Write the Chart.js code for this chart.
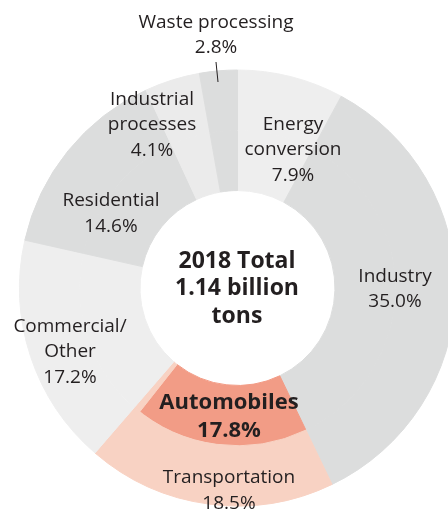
<!DOCTYPE html>
<html>
<head>
<meta charset="utf-8">
<script src="https://cdn.jsdelivr.net/npm/chart.js@4.4.1/dist/chart.umd.min.js"></script>
<style>
  html, body { margin: 0; padding: 0; width: 448px; height: 512px; overflow: hidden; background: #fff; }
  #wrap { position: absolute; left: 0; top: 0; width: 475px; height: 576px; }
</style>
</head>
<body>
<div id="wrap"><canvas id="chart"></canvas></div>
<script>
// data, clockwise from 12 o'clock
const sectors = ['Energy conversion', 'Industry', 'Transportation', 'Commercial/Other', 'Residential', 'Industrial processes', 'Waste processing'];
const shares = [7.9, 35.0, 18.5, 17.2, 14.6, 4.1, 2.8];
const automobileShare = 17.8; // part of Transportation
const sectorLines = [['Energy', 'conversion'], ['Industry'], ['Transportation'], ['Commercial/', 'Other'], ['Residential'], ['Industrial', 'processes'], ['Waste processing']];
const centerLines = ['2018 Total', '1.14 billion', 'tons'];

const sectorColors = ['#eeeeee', '#dcdddd', '#f8d2c3', '#eeeeee', '#dcdddd', '#ebebeb', '#dcdddd'];
const autoColor = '#f29c86';

// label placement, offsets from the centre at radius 218
const labelOffsets = [[55.5, -138], [157.5, 1], [-8.5, 202.5], [-167.5, 64], [-126.5, -74.5], [-85.5, -163], [-21.5, -253]];
const autoOffset = [-8.5, 129];
const wasteTick = [[-21.5, -226], [-19.5, -206]];
const textColor = '#231f20';

// inner ring splits Transportation into Automobiles + rest
const innerData = [];
const innerColors = [];
shares.forEach((v, i) => {
  if (i === 2) {
    innerData.push(automobileShare, +(v - automobileShare).toFixed(1));
    innerColors.push(autoColor, sectorColors[i]);
  } else {
    innerData.push(v);
    innerColors.push(sectorColors[i]);
  }
});

function drawBlock(ctx, lines, x, y, font, lh) {
  ctx.font = font;
  lines.forEach((t, k) => {
    ctx.fillText(t, x, y + (k - (lines.length - 1) / 2) * lh);
  });
}

const labelPlugin = {
  id: 'labels',
  afterDatasetsDraw(chart) {
    const arc = chart.getDatasetMeta(0).data[0];
    const cx = arc.x, cy = arc.y, s = arc.outerRadius / 218;
    const ctx = chart.ctx;
    ctx.save();
    ctx.fillStyle = textColor;
    ctx.textAlign = 'center';
    ctx.textBaseline = 'middle';
    shares.forEach((v, i) => {
      const lines = sectorLines[i].concat([v.toFixed(1) + '%']);
      drawBlock(ctx, lines, cx + labelOffsets[i][0] * s, cy + labelOffsets[i][1] * s, '19px "Open Sans"', 25.5);
    });
    drawBlock(ctx, ['Automobiles', automobileShare.toFixed(1) + '%'], cx + autoOffset[0] * s, cy + autoOffset[1] * s, 'bold 22px "Open Sans"', 28);
    drawBlock(ctx, centerLines, cx - 0.5, cy + 0.5, 'bold 23px "Open Sans"', 27.5);
    ctx.strokeStyle = textColor;
    ctx.lineWidth = 1;
    ctx.beginPath();
    ctx.moveTo(cx + wasteTick[0][0] * s, cy + wasteTick[0][1] * s);
    ctx.lineTo(cx + wasteTick[1][0] * s, cy + wasteTick[1][1] * s);
    ctx.stroke();
    ctx.restore();
  }
};

new Chart(document.getElementById('chart'), {
  type: 'doughnut',
  data: {
    labels: sectors,
    datasets: [
      {
        data: shares,
        backgroundColor: sectorColors,
        borderColor: sectorColors,
        borderWidth: 1
      },
      {
        data: innerData,
        backgroundColor: innerColors,
        borderColor: innerColors,
        borderWidth: 1
      }
    ]
  },
  options: {
    responsive: true,
    maintainAspectRatio: false,
    animation: false,
    cutout: '44.7%',
    hoverOffset: 0,
    offset: 0,
    layout: { padding: { left: 19, right: 19, top: 69.5, bottom: 69.5 } },
    plugins: {
      legend: { display: false },
      tooltip: { enabled: false }
    }
  },
  plugins: [labelPlugin]
});
</script>
</body>
</html>
